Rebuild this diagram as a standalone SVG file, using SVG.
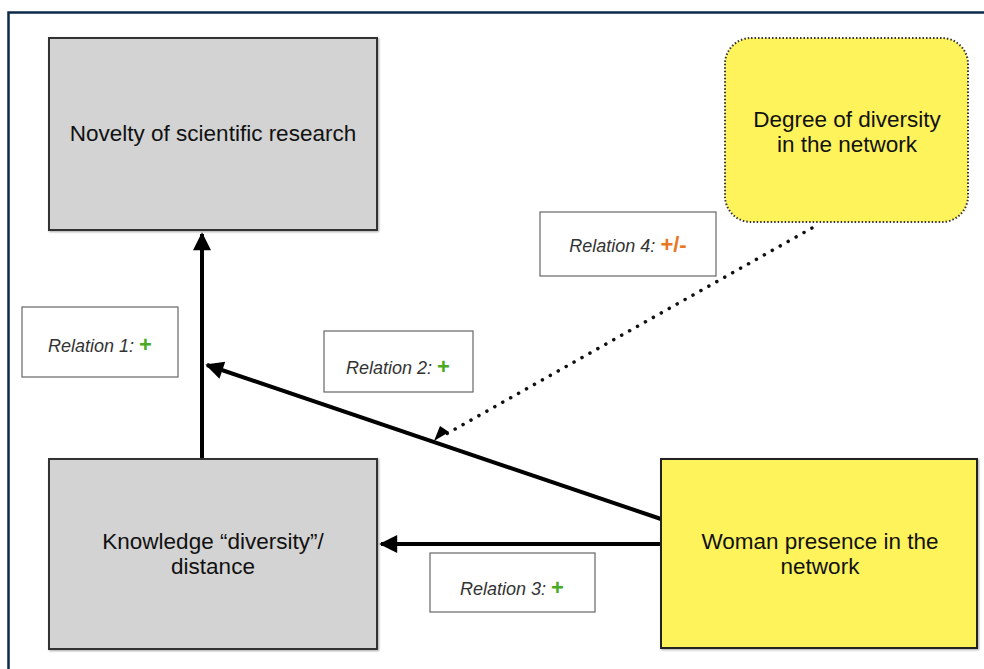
<svg xmlns="http://www.w3.org/2000/svg" width="984" height="669" viewBox="0 0 984 669">
<style>
text{font-family:"Liberation Sans",Arial,sans-serif;}
.node{font-size:22.5px;fill:#111;text-anchor:middle;}
.gray{fill:#d3d3d3;stroke:#333;stroke-width:2;}
.yel{fill:#fff35c;stroke:#222;stroke-width:2;}
.lab{fill:#fff;stroke:#666;stroke-width:1.2;}
.rel{font-size:18px;font-style:italic;fill:#333;text-anchor:middle;}
.plus{font-style:normal;font-weight:bold;font-size:22px;fill:#4aaa24;}
.pm{font-style:normal;font-weight:bold;font-size:22px;fill:#e87722;}
.con{stroke:#000;stroke-width:4;fill:none;}
.dot{stroke:#111;stroke-width:3.5;fill:none;stroke-dasharray:0.1 9;stroke-linecap:round;}
</style>
<defs>
<marker id="ah" viewBox="0 0 10 10" refX="9" refY="5" markerWidth="5" markerHeight="4.5" orient="auto" markerUnits="strokeWidth">
<path d="M0,0 L10,5 L0,10 z" fill="#000"/>
</marker>
<filter id="sh" x="-5%" y="-5%" width="110%" height="110%"><feDropShadow dx="1" dy="1" stdDeviation="0.8" flood-color="#000" flood-opacity="0.35"/></filter>
</defs>
<rect width="984" height="669" fill="#fff"/>
<path d="M8.5,669 V12.5 H984" fill="none" stroke="#0d2a4a" stroke-width="2.5"/>

<g id="connectors">
<line class="con" x1="202" y1="459" x2="202" y2="234" marker-end="url(#ah)"/>
<line class="con" x1="661" y1="519" x2="207" y2="365" marker-end="url(#ah)"/>
<line class="con" x1="661" y1="544" x2="381" y2="544" marker-end="url(#ah)"/>
<line class="dot" x1="812" y1="228" x2="441" y2="437"/>
<path d="M449,432 L434,441 L440,426 z" fill="#000"/>
</g>

<g id="novelty">
<rect class="gray" x="49" y="38" width="328" height="192" filter="url(#sh)"/>
<text class="node" x="213" y="141">Novelty of scientific research</text>
</g>
<g id="degree">
<rect x="725" y="38" width="243" height="184" rx="26" fill="#fff35c" stroke="#333" stroke-width="2" stroke-dasharray="1.5 2"/>
<text class="node" x="847" y="127">Degree of diversity</text>
<text class="node" x="847" y="152">in the network</text>
</g>
<g id="knowledge">
<rect class="gray" x="49" y="459" width="328" height="190" filter="url(#sh)"/>
<text class="node" x="213" y="549">Knowledge “diversity”/</text>
<text class="node" x="213" y="574">distance</text>
</g>
<g id="woman">
<rect class="yel" x="661" y="459" width="316" height="189" filter="url(#sh)"/>
<text class="node" x="820" y="549">Woman presence in the</text>
<text class="node" x="820" y="574">network</text>
</g>

<g id="rel1">
<rect class="lab" x="22" y="307" width="156" height="70"/>
<text class="rel" x="100" y="352">Relation 1: <tspan class="plus">+</tspan></text>
</g>
<g id="rel2">
<rect class="lab" x="324" y="331" width="149" height="61"/>
<text class="rel" x="398" y="374">Relation 2: <tspan class="plus">+</tspan></text>
</g>
<g id="rel3">
<rect class="lab" x="430" y="553" width="165" height="59"/>
<text class="rel" x="512" y="595">Relation 3: <tspan class="plus">+</tspan></text>
</g>
<g id="rel4">
<rect class="lab" x="540" y="212" width="176" height="64"/>
<text class="rel" x="628" y="252">Relation 4: <tspan class="pm">+/-</tspan></text>
</g>
</svg>
